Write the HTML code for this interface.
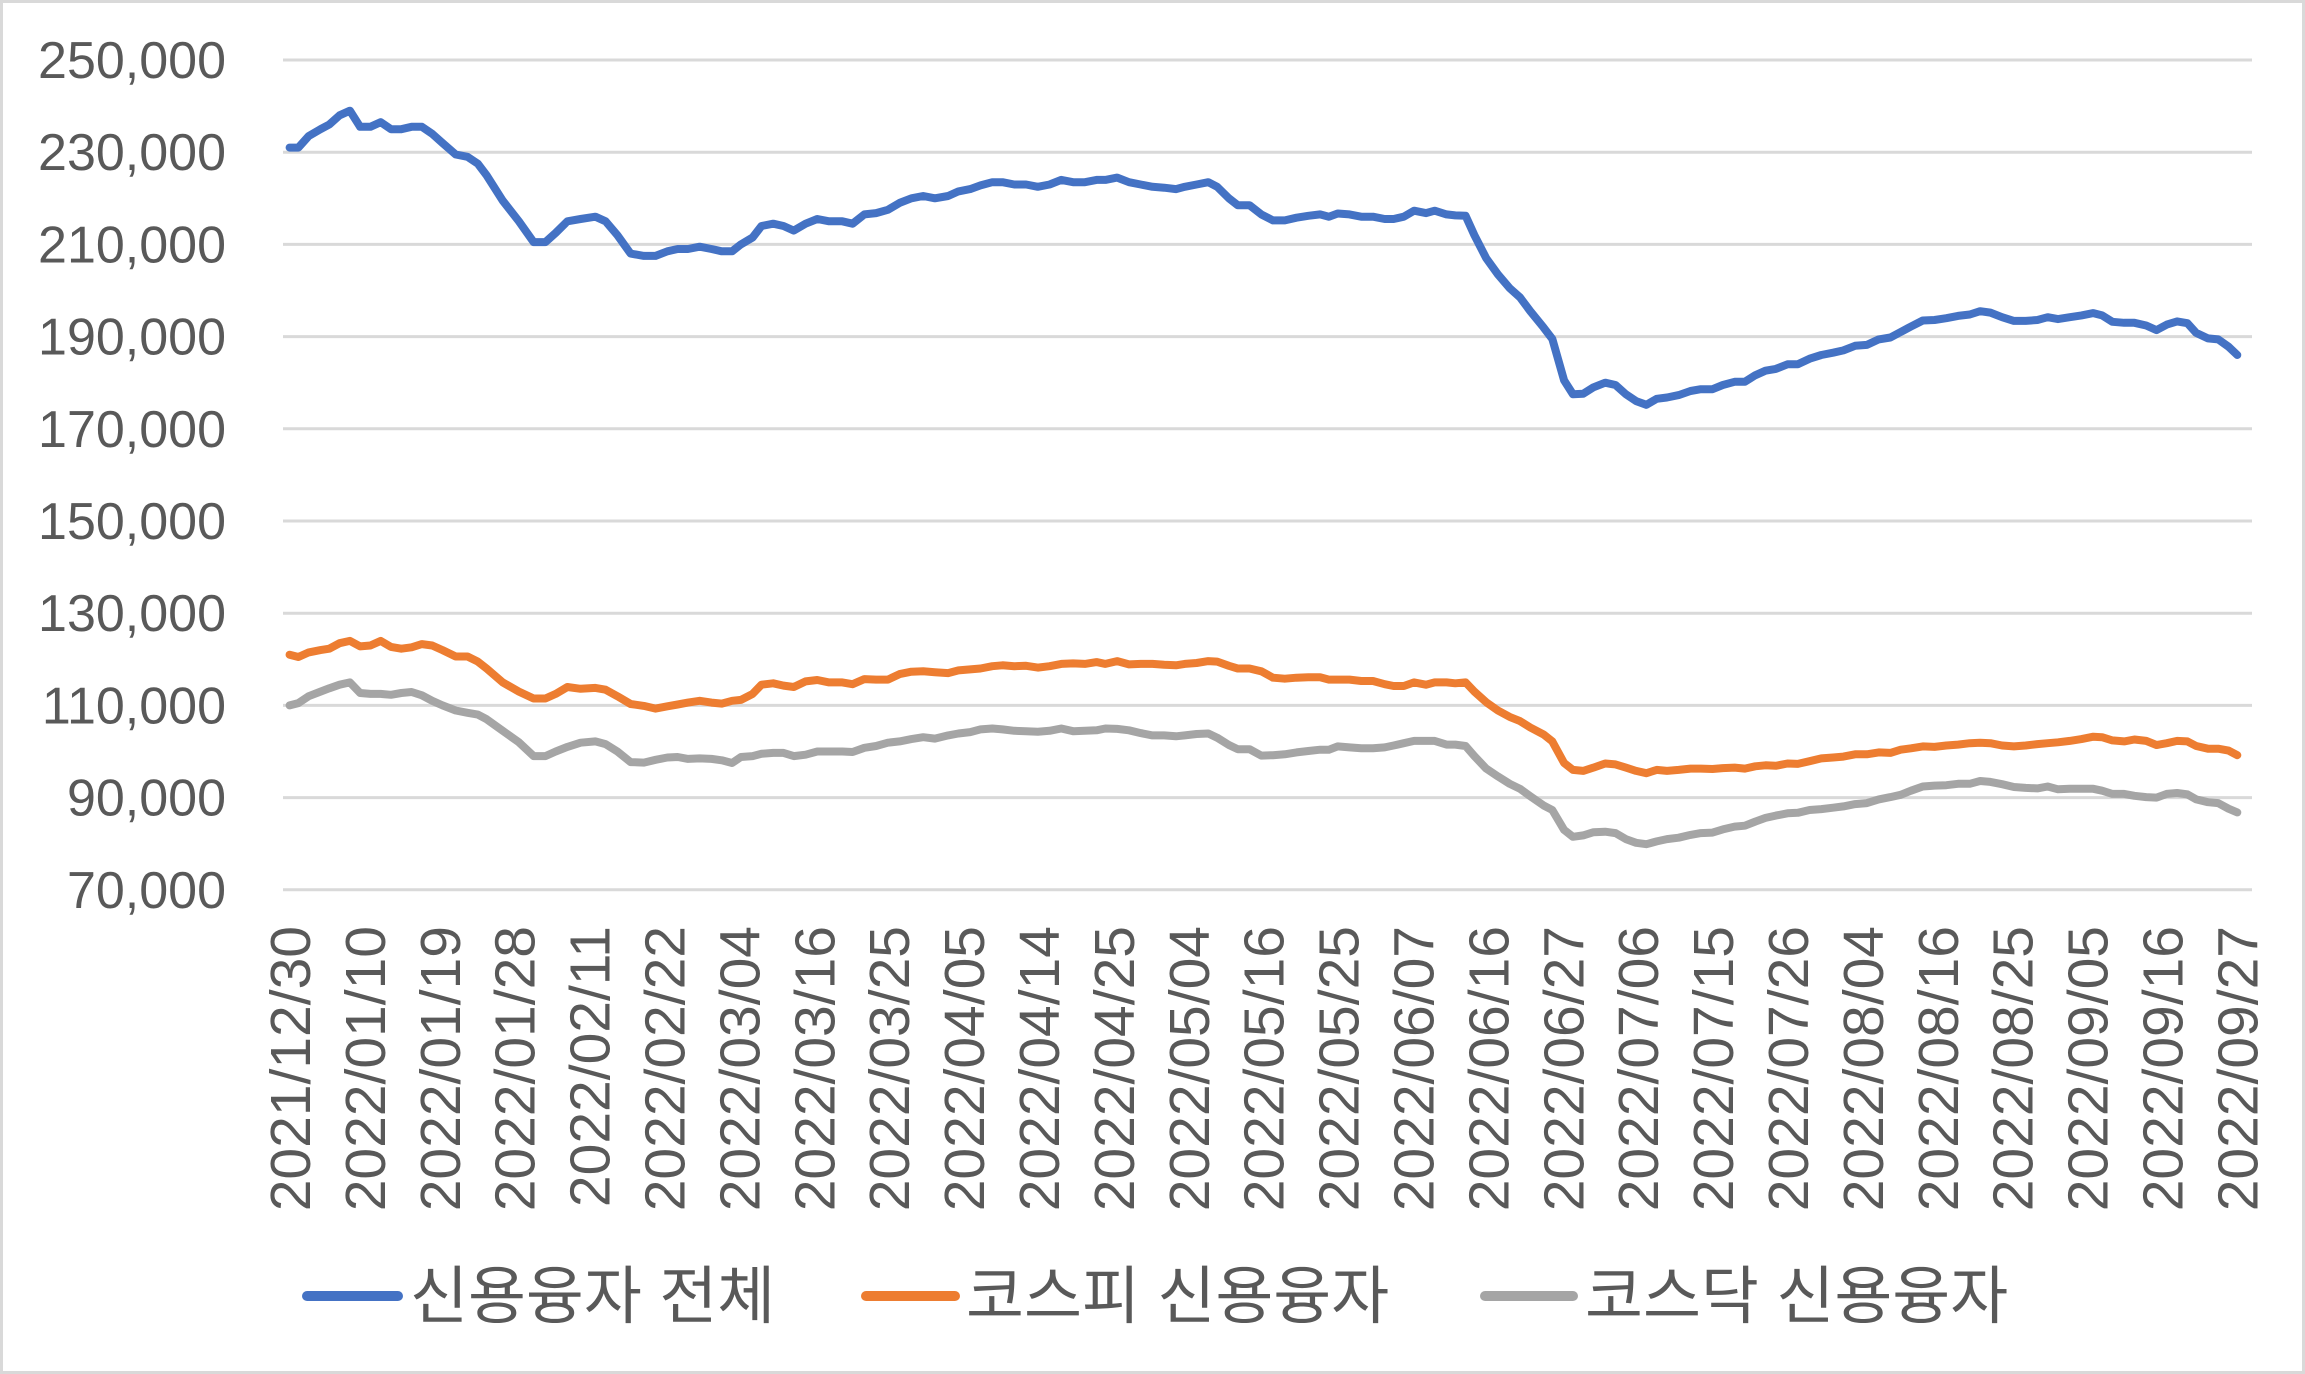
<!DOCTYPE html>
<html><head><meta charset="utf-8"><style>
html,body{margin:0;padding:0;background:#fff;}
svg{display:block;}
text{font-family:"Liberation Sans","Noto Sans CJK KR",sans-serif;fill:#595959;}
</style></head><body>
<svg id="s" width="2305" height="1374" viewBox="0 0 2305 1374" xmlns="http://www.w3.org/2000/svg">
<rect x="1.5" y="1.5" width="2302" height="1371" fill="#fff" stroke="#D9D9D9" stroke-width="3"/>
<g id="grid"></g>
<g id="ylab" font-size="52"></g>
<g id="xlab" font-size="57"></g>
<g id="series" fill="none" stroke-width="8" stroke-linejoin="round" stroke-linecap="round"></g>
<g font-size="63">
<line x1="307" y1="1296" x2="398" y2="1296" stroke="#4472C4" stroke-width="10" stroke-linecap="round"/>
<text x="410" y="1318">신용융자 전체</text>
<line x1="866" y1="1296" x2="955" y2="1296" stroke="#ED7D31" stroke-width="10" stroke-linecap="round"/>
<text x="966" y="1318">코스피 신용융자</text>
<line x1="1485" y1="1296" x2="1573" y2="1296" stroke="#A5A5A5" stroke-width="10" stroke-linecap="round"/>
<text x="1585" y="1318">코스닥 신용융자</text>
</g>
</svg>
<script>
var NS="http://www.w3.org/2000/svg";
function el(t,a,p,txt){var e=document.createElementNS(NS,t);for(var k in a)e.setAttribute(k,a[k]);if(txt)e.textContent=txt;p.appendChild(e);return e;}
function Y(v){return 60+(250-v)/20*92.2;}
var g=document.getElementById('grid'),yl=document.getElementById('ylab'),xl=document.getElementById('xlab');
for(var v=70;v<=250;v+=20){var y=Y(v);el('line',{x1:283,x2:2252,y1:y,y2:y,stroke:'#D9D9D9','stroke-width':3},g);
el('text',{x:226,y:y+18,'text-anchor':'end'},yl,(v)+",000");}
var labs=["2021/12/30","2022/01/10","2022/01/19","2022/01/28","2022/02/11","2022/02/22","2022/03/04","2022/03/16","2022/03/25","2022/04/05","2022/04/14","2022/04/25","2022/05/04","2022/05/16","2022/05/25","2022/06/07","2022/06/16","2022/06/27","2022/07/06","2022/07/15","2022/07/26","2022/08/04","2022/08/16","2022/08/25","2022/09/05","2022/09/16","2022/09/27"];
labs.forEach(function(l,i){var x=290+i*74.9;el('text',{x:x,y:926,'text-anchor':'end',transform:'rotate(-90 '+x+' 926) translate(0 20)'},xl,l);});
var B="197:231,203:231,210:233.5,218:235,224:236,231:238,238:239,245:235.5,252:235.5,259:236.5,266:235,273:235,280:235.5,287:235.5,294:234,301:232,310:229.5,318:229,325:227.5,331:225,342:219.5,353:215,363:210.5,371:210.5,378:212.5,386:215,395:215.5,405:216,412:215,420:212,429:208,438:207.5,446:207.5,454:208.5,461:209,468:209,476:209.5,484:209,491:208.5,498:208.5,504:210,512:211.5,518:214,526:214.5,533:214,540:213,548:214.5,556:215.5,564:215,573:215,580:214.5,588:216.5,596:216.8,604:217.5,612:219,620:220,628:220.5,636:220,645:220.5,652:221.5,660:222,667:222.8,675:223.5,682:223.5,690:223,698:223,706:222.5,714:223,722:224,730:223.5,738:223.5,746:224,752:224,760:224.5,768:223.5,776:223,784:222.5,792:222.3,800:222,806:222.5,814:223,822:223.5,828:222.5,836:220,842:218.5,850:218.5,858:216.5,866:215.2,874:215.2,882:215.8,890:216.2,898:216.5,904:216,910:216.7,918:216.5,926:216,934:216,942:215.5,948:215.5,955:216,962:217.3,970:216.8,976:217.3,984:216.5,990:216.3,997:216.2,1003:212,1011:207,1019:203.5,1027:200.5,1034:198.5,1041:195.5,1050:192,1056:189.5,1064:180.5,1070:177.5,1077:177.6,1084:179,1092:180,1099:179.5,1106:177.5,1113:176,1120:175.2,1127:176.5,1134:176.8,1142:177.3,1150:178.2,1157:178.6,1165:178.6,1172:179.5,1180:180.2,1187:180.2,1194:181.6,1201:182.6,1208:183,1216:184,1223:184,1231:185.2,1239:186,1247:186.5,1254:187,1262:188,1270:188.2,1278:189.4,1286:189.8,1293:191,1300:192.2,1308:193.5,1316:193.6,1324:194,1332:194.5,1340:194.8,1347:195.5,1354:195.2,1362:194.2,1370:193.4,1378:193.4,1386:193.6,1393:194.2,1400:193.8,1408:194.2,1416:194.6,1424:195.1,1430:194.6,1437:193.2,1445:193,1452:193,1460:192.4,1467:191.4,1474:192.6,1481:193.3,1488:192.9,1494:190.8,1502:189.6,1509:189.4,1516:187.8,1522:186";
var O="197:121,203:120.5,210:121.5,218:122,224:122.3,231:123.5,238:124,245:122.8,252:123,259:124,266:122.7,273:122.3,280:122.6,287:123.3,294:123,301:122,310:120.6,318:120.6,325:119.5,331:118,342:115,353:113,363:111.5,371:111.5,378:112.5,386:114,395:113.6,405:113.8,412:113.4,420:112,429:110.3,438:109.9,446:109.3,454:109.8,461:110.2,468:110.6,476:111,484:110.6,491:110.4,498:111,504:111.2,512:112.5,518:114.5,526:114.8,533:114.3,540:114,548:115.2,556:115.5,564:115,573:115,580:114.6,588:115.7,596:115.6,604:115.6,612:116.8,620:117.3,628:117.4,636:117.2,645:117,652:117.6,660:117.8,667:118,675:118.5,682:118.7,690:118.5,698:118.6,706:118.2,714:118.5,722:119,730:119.1,738:119,746:119.4,752:119,760:119.6,768:118.9,776:119,784:119,792:118.8,800:118.7,806:119,814:119.2,822:119.6,828:119.5,836:118.6,842:118,850:118,858:117.4,866:116,874:115.8,882:116,890:116.1,898:116.1,904:115.6,910:115.6,918:115.6,926:115.3,934:115.3,942:114.6,948:114.2,955:114.2,962:115,970:114.5,976:115,984:115,990:114.8,997:115,1003:113,1011:110.7,1019:108.9,1027:107.5,1034:106.6,1041:105.2,1050:103.7,1056:102.2,1064:97.5,1070:96,1077:95.8,1084:96.5,1092:97.4,1099:97.2,1106:96.5,1113:95.8,1120:95.3,1127:96,1134:95.8,1142:96,1150:96.3,1157:96.3,1165:96.2,1172:96.4,1180:96.5,1187:96.3,1194:96.8,1201:97,1208:96.9,1216:97.4,1223:97.3,1231:97.9,1239:98.5,1247:98.7,1254:98.9,1262:99.4,1270:99.4,1278:99.8,1286:99.7,1293:100.4,1300:100.7,1308:101.1,1316:101,1324:101.3,1332:101.5,1340:101.8,1347:101.9,1354:101.8,1362:101.3,1370:101.1,1378:101.3,1386:101.6,1393:101.8,1400:102,1408:102.3,1416:102.7,1424:103.2,1430:103.1,1437:102.4,1445:102.2,1452:102.6,1460:102.3,1467:101.4,1474:101.8,1481:102.3,1488:102.2,1494:101.2,1502:100.6,1509:100.6,1516:100.2,1522:99.2";
function parse(s){return s.split(',').map(function(p){var a=p.split(':');return [+a[0],+a[1]];});}
var b=parse(B),o=parse(O),gr=b.map(function(p,i){return [p[0],p[1]-o[i][1]];});
var sg=document.getElementById('series');
function path(d,c){var s=d.map(function(p,i){return (i?'L':'M')+(p[0]*1.47).toFixed(1)+' '+Y(p[1]).toFixed(1);}).join('');el('path',{d:s,stroke:c},sg);}
path(gr,'#A5A5A5');path(o,'#ED7D31');path(b,'#4472C4');
</script>
</body></html>
